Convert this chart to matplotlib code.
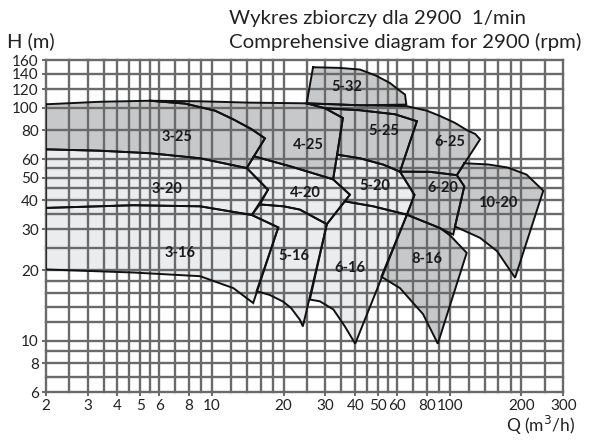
import matplotlib
matplotlib.use("Agg")
import matplotlib.pyplot as plt

plt.rcParams['font.family'] = ['Lato', 'DejaVu Sans']

# grid positions (m3/h and m)
x_grid = [2, 2.5, 3, 3.5, 4, 4.5, 5, 5.5, 6, 7, 8, 9, 10, 12, 14, 16, 18, 20,
          25, 30, 35, 40, 45, 50, 55, 60, 70, 80, 90, 100, 120, 140, 160, 180,
          200, 250, 300]
y_grid = [6, 7, 8, 9, 10, 12, 14, 16, 18, 20, 25, 30, 35, 40, 45, 50, 55, 60,
          80, 100, 120, 140, 160]
x_ticks = [2, 3, 4, 5, 6, 8, 10, 20, 30, 40, 50, 60, 80, 100, 200, 300]
y_ticks = [6, 8, 10, 20, 30, 40, 50, 60, 80, 100, 120, 140, 160]

# pump fields: Q (m3/h), H (m)
q_325 = [2.0, 3.38, 5.49, 7.7, 10.3, 12.3, 14.6, 16.7, 14.0, 8.91, 5.49, 3.38, 2.0]
h_325 = [103.3, 105.9, 107, 104, 97, 89, 81, 73.8, 55.0, 60.6, 63.7, 65.3, 66.2]

q_320 = [2.0, 3.38, 5.49, 8.91, 14.0, 17.2, 14.7, 8.91, 4.66, 2.0]
h_320 = [66.2, 65.3, 63.7, 60.6, 55.0, 44.4, 34.6, 37.7, 38.1, 37.1]

q_316 = [2.0, 4.66, 8.91, 14.7, 19.0, 14.9, 12.3, 8.91, 4.66, 2.0]
h_316 = [37.1, 38.1, 37.7, 34.6, 30.6, 14.5, 16.8, 18.9, 19.6, 20.2]

q_425 = [5.49, 8.91, 14.45, 25.0, 29.9, 35.5, 32.3, 21.3, 15.0, 16.7, 14.6, 12.3, 10.3, 7.7]
h_425 = [107, 106.4, 105, 104.3, 99.3, 90.2, 49.2, 56.0, 61.8, 73.8, 81, 89, 97, 104]

q_420 = [15.0, 21.3, 32.3, 38.0, 30.4, 23.4, 20.0, 15.9, 17.2, 14.0]
h_420 = [61.8, 56.0, 49.2, 42.3, 31.6, 36.5, 37.7, 38.4, 44.4, 55.0]

q_516 = [15.9, 20.0, 23.4, 30.4, 24.1, 23.4, 21.5, 19.9, 17.5, 15.4, 19.0, 14.7]
h_516 = [38.4, 37.7, 36.5, 31.6, 11.5, 12.3, 13.8, 14.7, 15.7, 16.3, 30.6, 34.6]

q_532 = [26.6, 34.5, 41.9, 49, 56, 61, 64.8, 65.6, 41.9, 25.0]
h_532 = [149, 148, 145.6, 137, 127.5, 119, 113.7, 103, 102.3, 104.3]

q_525 = [33.6, 35.5, 29.9, 41.9, 58.8, 72.7, 61.7, 52.5, 41.9]
h_525 = [62.8, 90.2, 99.3, 97.4, 93.6, 87.4, 53.1, 56.9, 60.6]

q_520 = [33.6, 41.9, 52.5, 61.7, 71, 66.0, 47.6, 36.2, 38.0, 32.3]
h_520 = [62.8, 60.6, 56.9, 53.1, 42.2, 34.7, 37.7, 39.6, 42.3, 49.2]

q_616 = [36.2, 47.6, 66.0, 40, 36.2, 32.4, 28.4, 25.8, 30.4]
h_616 = [39.6, 37.7, 34.7, 9.7, 11.5, 13.6, 14.75, 15.0, 31.6]

q_625 = [25.0, 41.9, 65.6, 80, 91, 105, 118, 128, 134, 107, 82.5, 61.7, 72.7, 58.8, 41.9, 29.9]
h_625 = [104.3, 102.3, 101.5, 97, 92, 86, 80, 77, 73.1, 51.3, 53.0, 53.1, 87.4, 93.6, 97.4, 99.3]

q_620 = [61.7, 82.5, 107, 115, 103.3, 90.9, 66.0, 71]
h_620 = [53.1, 53.0, 51.3, 45.9, 28.5, 30.4, 34.7, 42.2]

q_816 = [66.0, 90.9, 100.5, 117.7, 89, 77.1, 61.7, 51.5]
h_816 = [34.7, 30.4, 28.2, 23.8, 9.7, 13.0, 16.8, 18.8]

q_1020 = [115, 145, 175, 210, 247, 188, 158, 134, 105, 115, 107]
h_1020 = [57.7, 57.0, 55.3, 51.6, 44.0, 18.6, 24.2, 27.6, 30.9, 45.9, 51.3]

dark = [(q_325, h_325), (q_425, h_425), (q_532, h_532), (q_525, h_525),
        (q_625, h_625), (q_620, h_620), (q_816, h_816), (q_1020, h_1020)]
light = [(q_320, h_320), (q_316, h_316), (q_420, h_420), (q_516, h_516),
         (q_520, h_520), (q_616, h_616)]

labels = ['3-25', '3-20', '3-16', '4-25', '4-20', '5-16', '5-32', '5-25',
          '5-20', '6-16', '6-25', '6-20', '10-20', '8-16']
label_q = [7.1, 6.45, 7.34, 25.4, 24.6, 22.0, 36.8, 52.5, 48.5, 38.0, 100, 93.8, 159, 79.9]
label_h = [74.6, 44.9, 23.8, 69.4, 43.0, 23.0, 122, 79.1, 45.9, 20.4, 71.2, 45.2, 38.9, 22.5]

DARK = '#c7c8ca'
LIGHT = '#ebeced'
GRID = '#6a6a6a'

fig = plt.figure(figsize=(5.93, 4.41), dpi=100)
ax = fig.add_axes([0.0771, 0.1104, 0.8729, 0.7535])
ax.set_xscale('log')
ax.set_yscale('log')
ax.set_xlim(2, 300)
ax.set_ylim(6, 160)

for q, h in dark:
    ax.fill(q, h, color=DARK, lw=0, zorder=1)
for q, h in light:
    ax.fill(q, h, color=LIGHT, lw=0, zorder=1)

for x in x_grid:
    ax.axvline(x, color=GRID, lw=1.7, zorder=2, clip_on=False)
for y in y_grid:
    ax.axhline(y, color=GRID, lw=1.7, zorder=2, clip_on=False)

for q, h in dark + light:
    ax.plot(q + q[:1], h + h[:1], color='#111111', lw=1.4, zorder=3,
            solid_joinstyle='miter')

for name, q, h in zip(labels, label_q, label_h):
    ax.text(q, h, name, ha='center', va='center', fontsize=10.5,
            fontweight='bold', color='#1a1a1a', zorder=4)

for s in ax.spines.values():
    s.set_visible(False)

ax.set_xticks(x_ticks)
ax.set_xticklabels([str(v) for v in x_ticks])
ax.set_yticks(y_ticks)
ax.set_yticklabels([str(v) for v in y_ticks])
ax.minorticks_off()
ax.tick_params(axis='both', length=3, width=1.4, color=GRID, labelsize=11,
               pad=2, labelcolor='#222222')

fig.text(0.386, 0.959, 'Wykres zbiorczy dla 2900  1/min', fontsize=14.7,
         ha='left', va='center', color='#222222')
fig.text(0.386, 0.905, 'Comprehensive diagram for 2900 (rpm)', fontsize=14.7,
         ha='left', va='center', color='#222222')
fig.text(0.012, 0.907, 'H (m)', fontsize=14.5, ha='left', va='center', color='#222222')
fig.text(0.97, 0.035, 'Q (m$^3$/h)', fontsize=12.5, ha='right', va='center',
         color='#222222')

fig.savefig('out.png', dpi=100)
